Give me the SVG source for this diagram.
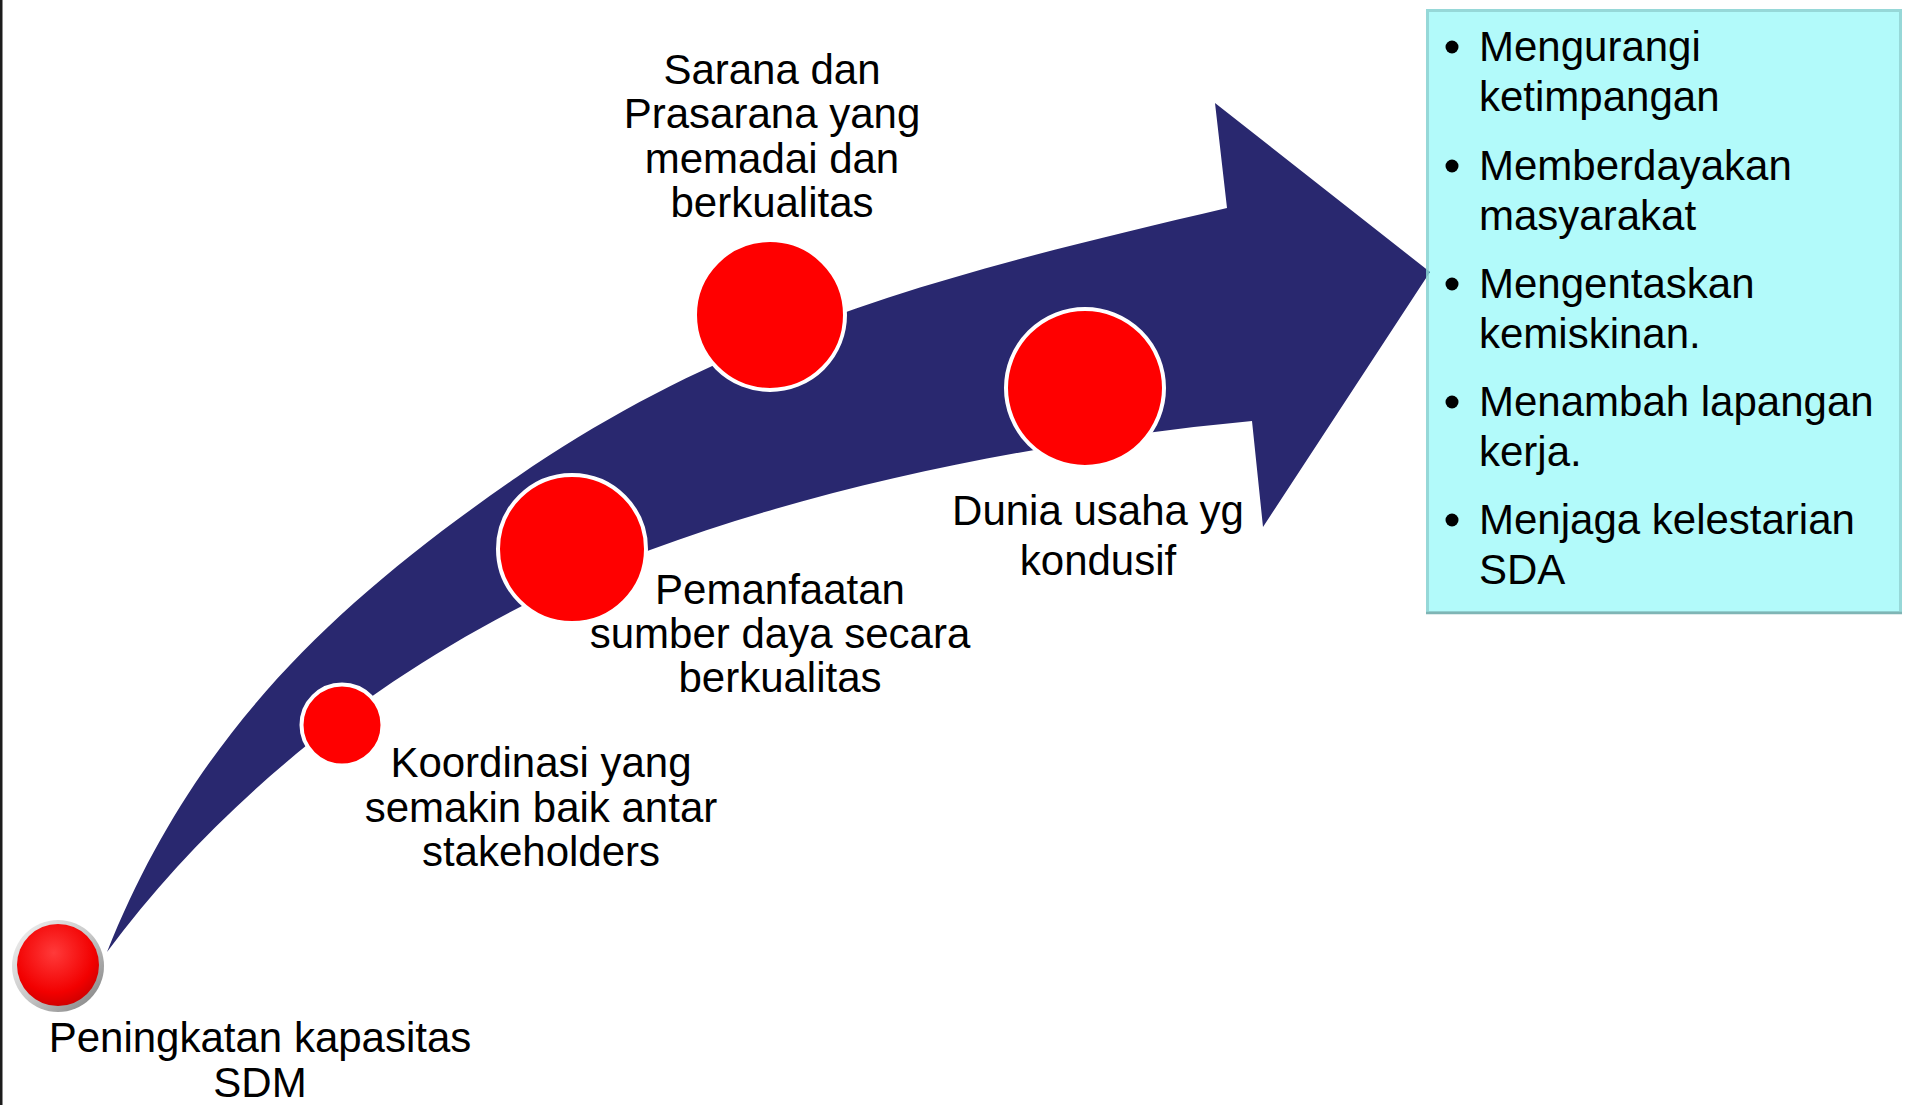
<svg xmlns="http://www.w3.org/2000/svg" width="1905" height="1105" viewBox="0 0 1905 1105">
  <defs>
    <radialGradient id="btnRed" cx="0.45" cy="0.35" r="0.7">
      <stop offset="0" stop-color="#ff3a3a"/>
      <stop offset="0.7" stop-color="#f20000"/>
      <stop offset="1" stop-color="#c80000"/>
    </radialGradient>
    <linearGradient id="btnRim" x1="0" y1="0" x2="1" y2="1">
      <stop offset="0" stop-color="#f4f4f4"/>
      <stop offset="0.5" stop-color="#c8c8c8"/>
      <stop offset="1" stop-color="#7a7a7a"/>
    </linearGradient>
    <style>
      .lbl { font-family: "Liberation Sans", Arial, sans-serif; font-size: 42px; fill: #000000; text-anchor: middle; }
      .itm { font-family: "Liberation Sans", Arial, sans-serif; font-size: 42px; fill: #000000; }
      .dot { fill: #ff0000; stroke: #ffffff; stroke-width: 4; }
      .bul { fill: #000000; }
    </style>
  </defs>

  <rect x="0" y="0" width="1905" height="1105" fill="#ffffff"/>
  <rect x="0" y="0" width="2.5" height="1105" fill="#1c1c1c"/>

  <g id="connectors">
    <path id="main-arrow" fill="#29286f" d="M107,952 C192.3,738.6 327.7,607.6 517,477 C739.2,323.6 964.3,269.8 1227,208 L1215,103 L1430,272 L1263,527 L1252,421 C1052.9,439.9 837.6,480.6 650,550 C439,628 240.9,771.1 107,952 Z"/>
  </g>

  <g id="node-sdm">
    <circle cx="58" cy="966" r="46" fill="url(#btnRim)"/>
    <circle cx="58" cy="965" r="41" fill="url(#btnRed)"/>
    <text class="lbl" x="260" y="1052">Peningkatan kapasitas</text>
    <text class="lbl" x="260" y="1097">SDM</text>
  </g>

  <g id="node-koordinasi">
    <circle class="dot" cx="342" cy="725" r="40.5"/>
    <text class="lbl" x="541" y="777">Koordinasi yang</text>
    <text class="lbl" x="541" y="822">semakin baik antar</text>
    <text class="lbl" x="541" y="866">stakeholders</text>
  </g>

  <g id="node-pemanfaatan">
    <circle class="dot" cx="572" cy="549" r="74"/>
    <text class="lbl" x="780" y="604">Pemanfaatan</text>
    <text class="lbl" x="780" y="648">sumber daya secara</text>
    <text class="lbl" x="780" y="692">berkualitas</text>
  </g>

  <g id="node-sarana">
    <circle class="dot" cx="770" cy="315" r="75"/>
    <text class="lbl" x="772" y="84">Sarana dan</text>
    <text class="lbl" x="772" y="128">Prasarana yang</text>
    <text class="lbl" x="772" y="173">memadai dan</text>
    <text class="lbl" x="772" y="217">berkualitas</text>
  </g>

  <g id="node-dunia">
    <circle class="dot" cx="1085" cy="388" r="79"/>
    <text class="lbl" x="1098" y="525">Dunia usaha yg</text>
    <text class="lbl" x="1098" y="575">kondusif</text>
  </g>

  <g id="node-goals">
    <rect x="1426" y="9" width="476" height="605" fill="#00f0f0" fill-opacity="0.3"/>
    <rect x="1427.5" y="10.5" width="473" height="602" fill="none" stroke="#8fd0d0" stroke-width="3" stroke-opacity="0.8"/>
    <line x1="1426" y1="613" x2="1902" y2="613" stroke="#7fb5b5" stroke-width="2.5"/>
    <circle class="bul" cx="1452" cy="47" r="6.5"/>
    <text class="itm" x="1479" y="61">Mengurangi</text>
    <text class="itm" x="1479" y="111">ketimpangan</text>
    <circle class="bul" cx="1452" cy="166" r="6.5"/>
    <text class="itm" x="1479" y="180">Memberdayakan</text>
    <text class="itm" x="1479" y="230">masyarakat</text>
    <circle class="bul" cx="1452" cy="284" r="6.5"/>
    <text class="itm" x="1479" y="298">Mengentaskan</text>
    <text class="itm" x="1479" y="348">kemiskinan.</text>
    <circle class="bul" cx="1452" cy="402" r="6.5"/>
    <text class="itm" x="1479" y="416">Menambah lapangan</text>
    <text class="itm" x="1479" y="466">kerja.</text>
    <circle class="bul" cx="1452" cy="520" r="6.5"/>
    <text class="itm" x="1479" y="534">Menjaga kelestarian</text>
    <text class="itm" x="1479" y="584">SDA</text>
  </g>
</svg>
